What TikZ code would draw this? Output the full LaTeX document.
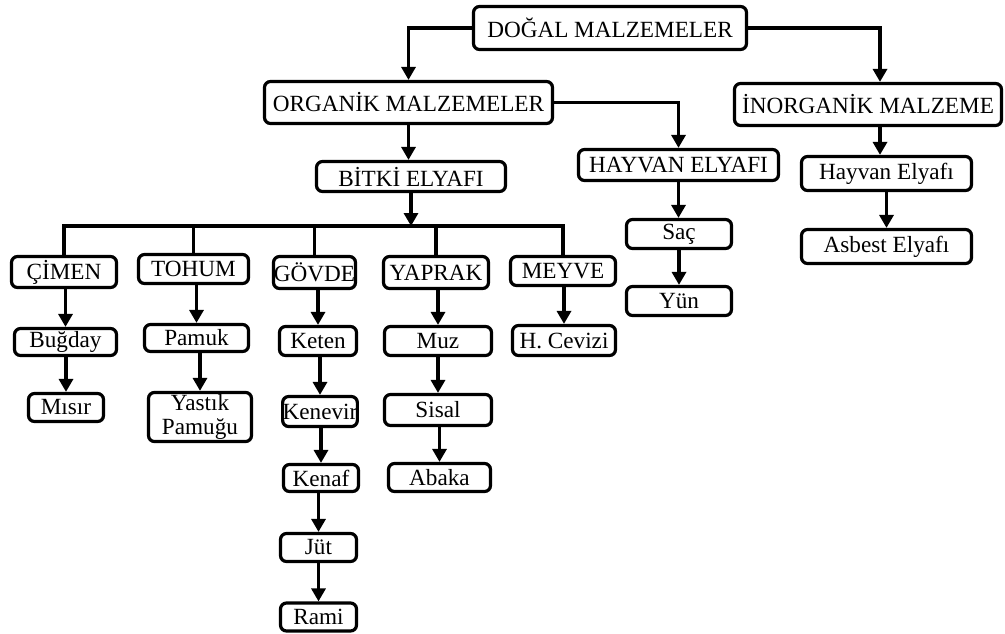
\documentclass[tikz,border=0pt]{standalone}
\usepackage{fontspec}
\setmainfont{Liberation Serif}
\usetikzlibrary{arrows.meta}

\tikzset{
  box/.style={draw, rounded corners=3pt, line width=1.6pt, inner sep=0pt,
    align=center, font=\fontsize{11.6}{12}\selectfont},
  bx/.style 2 args={box, minimum width=#1, minimum height=#2},
  arr/.style={line width=1.6pt, -{Triangle[length=6.5pt,width=7pt]}},
  ln/.style={line width=1.6pt}
}

\begin{document}
\begin{tikzpicture}[x=0.5pt, y=-0.5pt]
\useasboundingbox (0,0) rectangle (1005,633);

\path (610,28) node[bx={136.5pt}{21.5pt}] (dogal) {DOĞAL MALZEMELER}
      (408.5,102.5) node[bx={144pt}{21pt}] (organik) {ORGANİK MALZEMELER}
      (868,104.5) node[bx={133.5pt}{21pt}] (inorg) {İNORGANİK MALZEME}
      (411,176.5) node[bx={94.5pt}{15pt}] (bitki) {BİTKİ ELYAFI}
      (678.5,165) node[bx={100pt}{15.5pt}] (hayvan) {HAYVAN ELYAFI}
      (679,234) node[bx={52.5pt}{14.5pt}] (sac) {Saç}
      (679,301) node[bx={52.5pt}{14.5pt}] (yun) {Yün}
      (886.5,173.5) node[bx={85pt}{17pt}] (hayvanelyaf) {Hayvan Elyafı}
      (886.5,246.5) node[bx={85pt}{17pt}] (asbest) {Asbest Elyafı}
      % bitki elyafi alt gruplari
      (64,272) node[bx={52.5pt}{15.5pt}] (cimen) {ÇİMEN}
      (193.5,269) node[bx={55pt}{14.5pt}] (tohum) {TOHUM}
      (314.5,272.5) node[bx={41pt}{16pt}] (govde) {GÖVDE}
      (436,272.5) node[bx={52.5pt}{16pt}] (yaprak) {YAPRAK}
      (563,271) node[bx={52.5pt}{14.5pt}] (meyve) {MEYVE}
      (65.5,342) node[bx={51pt}{13.5pt}] (bugday) {Buğday}
      (66,407.5) node[bx={37.5pt}{14pt}] (misir) {Mısır}
      (196.5,338) node[bx={52pt}{13.5pt}] (pamuk) {Pamuk}
      (200,417) node[bx={51.5pt}{23pt}, inner ysep=1pt] (yastik) {Yastık\\Pamuğu}
      (318,341) node[bx={38.5pt}{14.5pt}] (keten) {Keten}
      (320,411.5) node[bx={36.5pt}{15pt}] (kenevir) {Kenevir}
      (321,478) node[bx={37.5pt}{13.5pt}] (kenaf) {Kenaf}
      (318.5,547.5) node[bx={38pt}{14pt}] (jut) {Jüt}
      (318.5,617) node[bx={38pt}{14pt}] (rami) {Rami}
      (438,341) node[bx={53.5pt}{14.5pt}] (muz) {Muz}
      (438,410) node[bx={53.5pt}{15.5pt}] (sisal) {Sisal}
      (439.5,477.5) node[bx={51pt}{14pt}] (abaka) {Abaka}
      (564,340.5) node[bx={51.5pt}{15pt}] (hcevizi) {H. Cevizi}
;
\coordinate (bus) at (411,226);

\draw[arr] (dogal.west) -| (organik.north);
\draw[arr] (dogal.east) -| ([xshift=6pt]inorg.north);
\draw[arr] ([xshift=6pt]inorg.south) -- ([xshift=6pt]inorg.south |- hayvanelyaf.north);
\draw[arr] (hayvanelyaf) -- (asbest);
\draw[arr] (organik.east) -| (hayvan.north);
\draw[arr] (organik) -- (organik |- bitki.north);
\draw[arr] (hayvan) -- (hayvan |- sac.north);
\draw[arr] (sac) -- (sac |- yun.north);

\draw[arr] (bitki.south) -- (bus);
\draw[ln] (cimen.north) |- (bus) -| (meyve.north);
\foreach \n in {tohum, govde, yaprak}
  \draw[ln] (\n.north) -- (\n.north |- bus);

\draw[arr] (cimen.south -| bugday) -- (bugday.north);
\draw[arr] (bugday.south -| misir) -- (misir.north);
\draw[arr] (tohum.south -| pamuk) -- (pamuk.north);
\draw[arr] (pamuk.south -| yastik) -- (yastik.north);
\draw[arr] (govde.south -| keten) -- (keten.north);
\draw[arr] (keten.south -| kenevir) -- (kenevir.north);
\draw[arr] (kenevir.south -| kenaf) -- (kenaf.north);
\draw[arr] (kenaf.south -| jut) -- (jut.north);
\draw[arr] (jut.south -| rami) -- (rami.north);
\draw[arr] (yaprak.south -| muz) -- (muz.north);
\draw[arr] (muz.south -| sisal) -- (sisal.north);
\draw[arr] (sisal.south -| abaka) -- (abaka.north);
\draw[arr] (meyve.south -| hcevizi) -- (hcevizi.north);

\end{tikzpicture}
\end{document}
